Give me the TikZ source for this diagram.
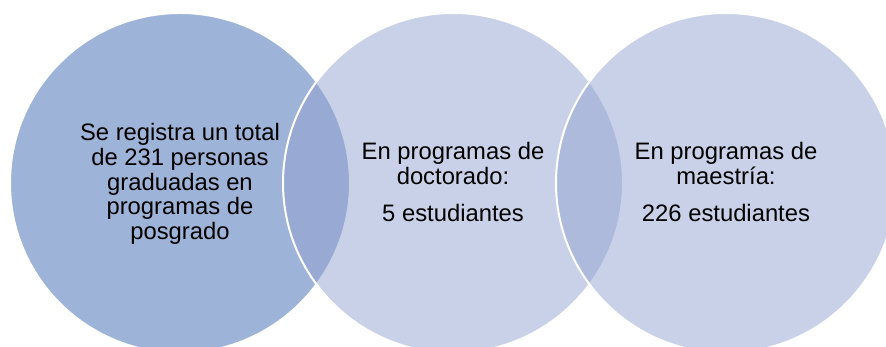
\documentclass[tikz,border=0pt]{standalone}
\usepackage{fontspec}
\setmainfont{Liberation Sans}
\definecolor{leftfill}{RGB}{158,179,216}
\definecolor{overfill}{RGB}{147,163,209}
\tikzset{
  bigcircle/.style={circle, inner sep=0pt, minimum size=340pt, draw=white, line width=2pt},
  label text/.style={align=center, inner sep=0pt, text=black, font=\fontsize{23.8}{24.6}\selectfont}
}
\begin{document}
\begin{tikzpicture}[x=1pt,y=1pt]
\useasboundingbox (0,0) rectangle (886,347);
\node[bigcircle, fill=leftfill] (c1) at (180,164) {};
\node[bigcircle, fill=overfill, fill opacity=0.5] (c2) at (453,164) {};
\node[bigcircle, fill=overfill, fill opacity=0.5] (c3) at (726,164) {};
\node[label text] (t1) at (180,163) {Se registra un total\\de 231 personas\\graduadas en\\programas de\\posgrado};
\node[label text] (t2) at (453,165) {En programas de\\doctorado:\\[12pt]5 estudiantes};
\node[label text] (t3) at (726,165) {En programas de\\maestría:\\[12pt]226 estudiantes};
\end{tikzpicture}
\end{document}
